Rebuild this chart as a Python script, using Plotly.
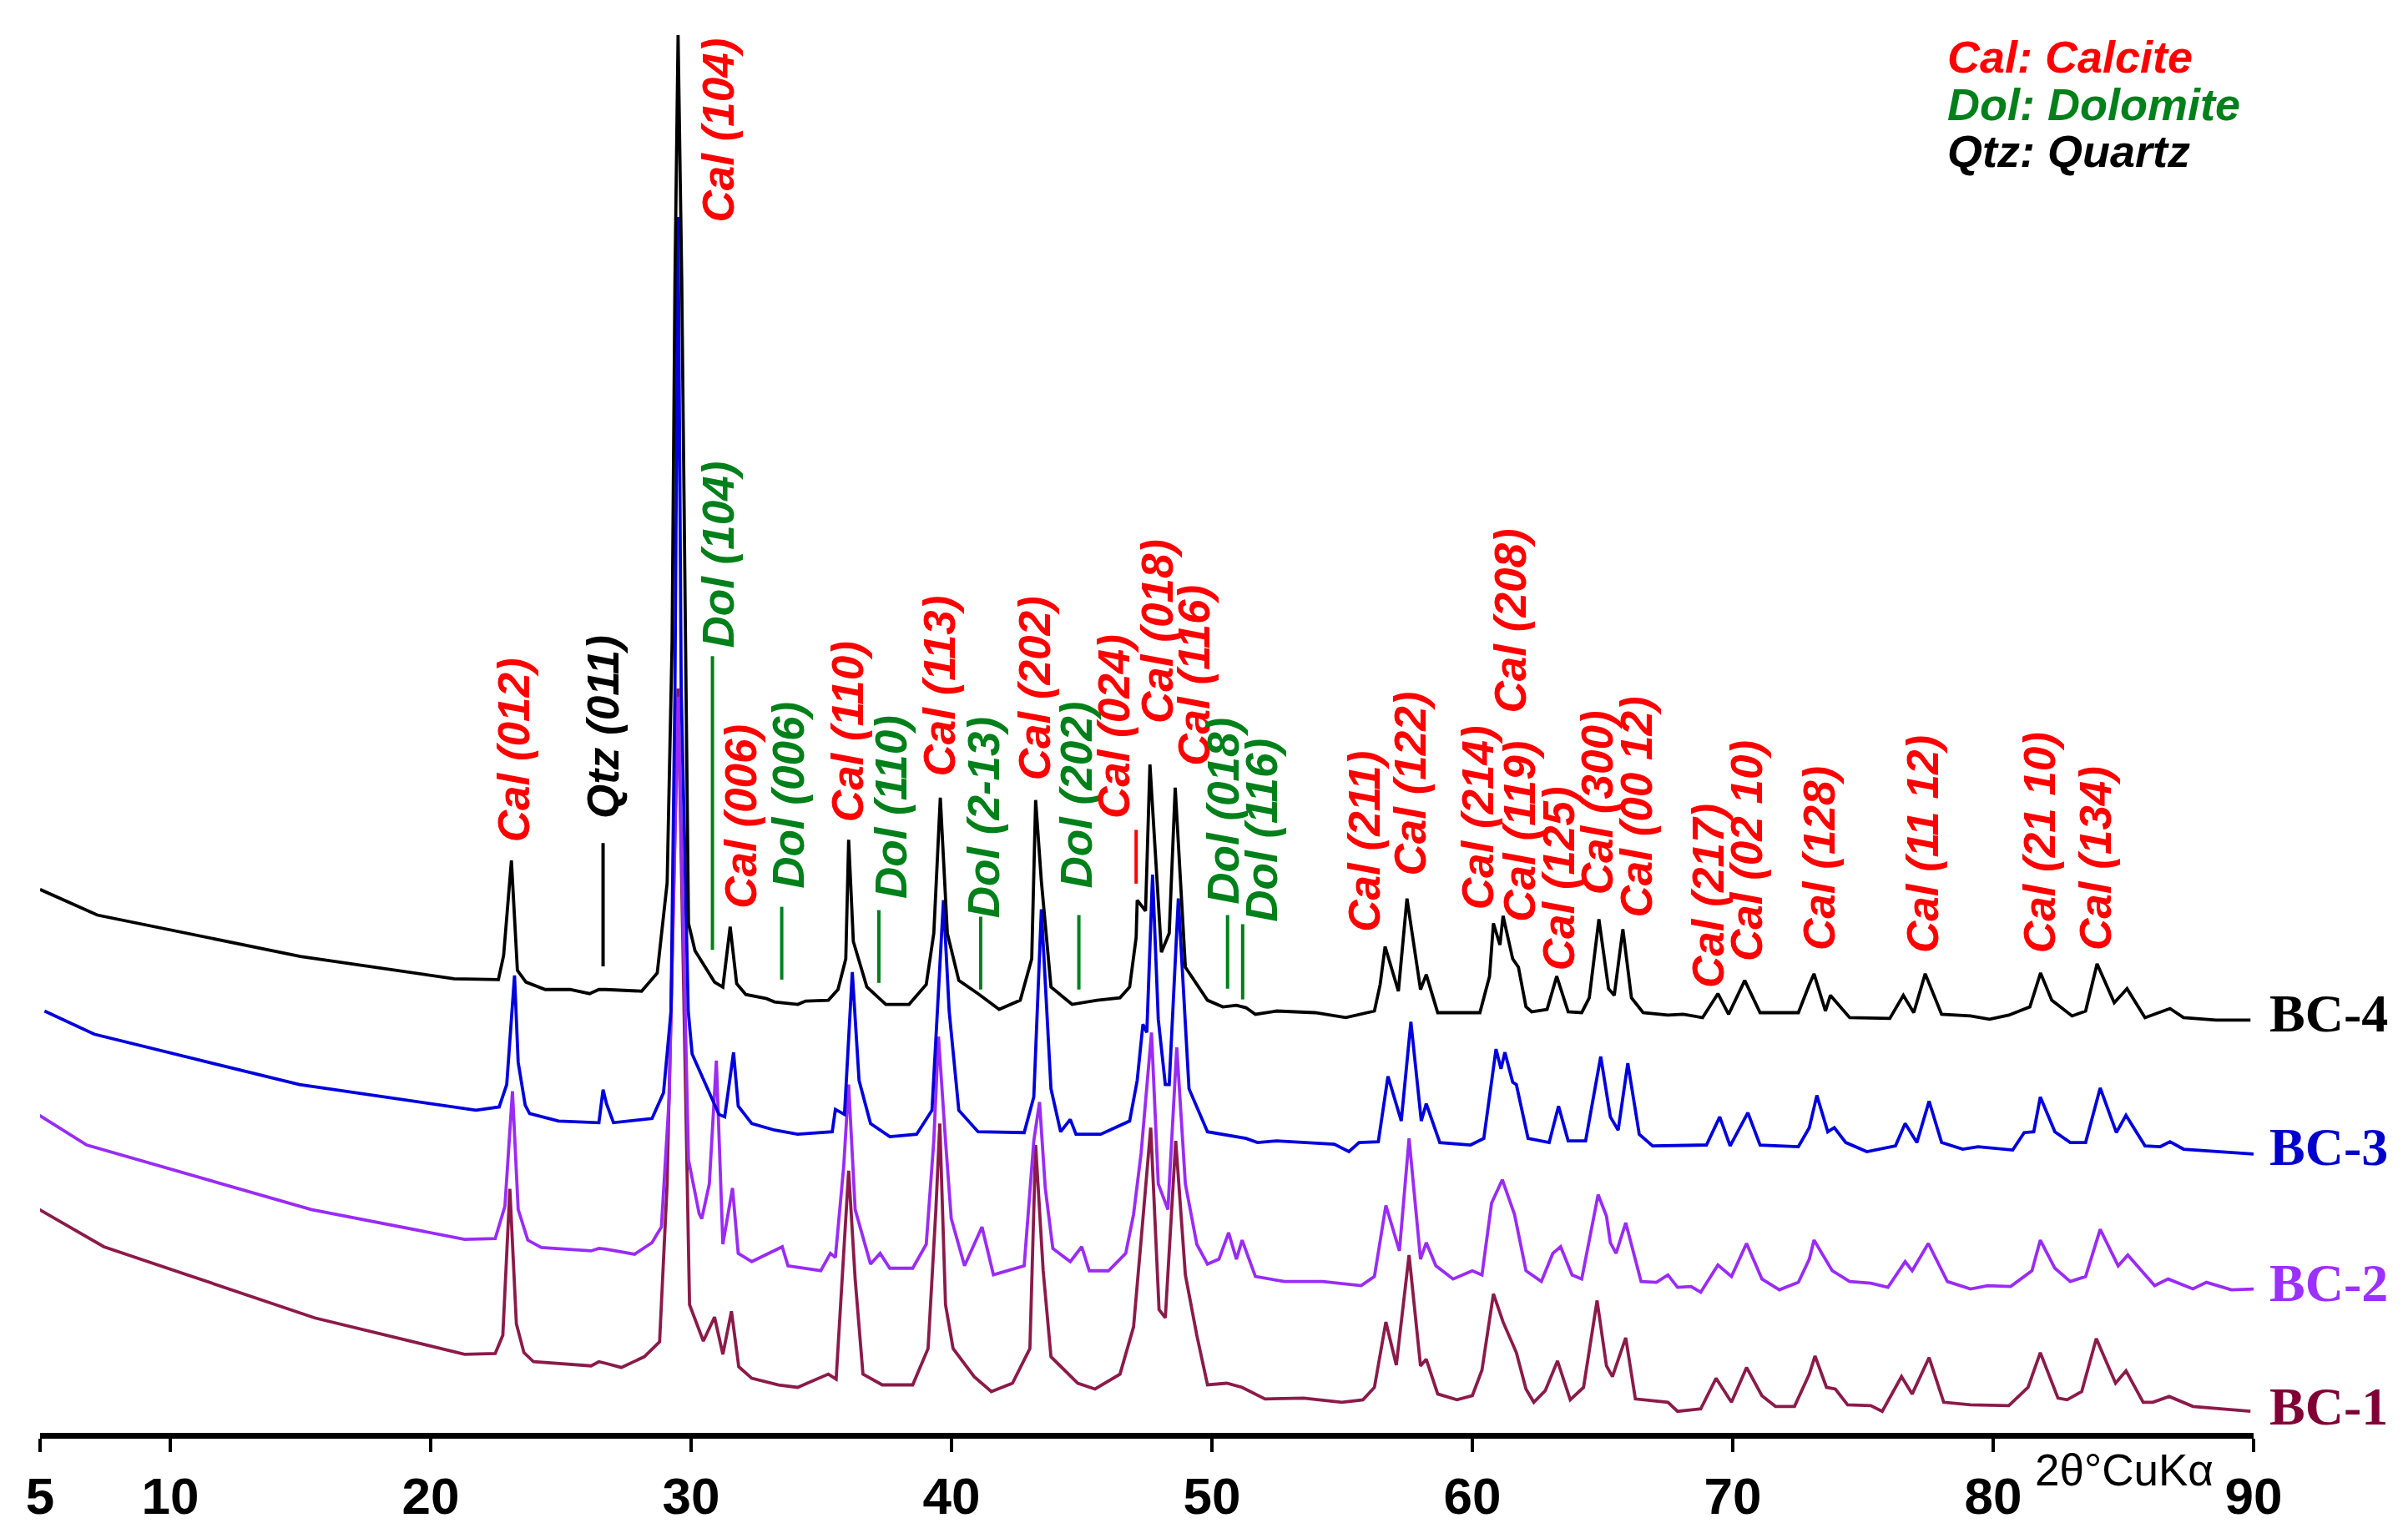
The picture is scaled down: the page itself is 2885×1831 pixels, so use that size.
import plotly.graph_objects as go

# ==========================
# DATA (2-theta in degrees, intensity in a.u. with stacking offsets as drawn)
# ==========================

bc4_theta = [5.0, 7.2, 15.0, 20.9, 22.6, 22.8, 23.1, 23.33, 23.66, 24.4, 25.35, 26.1, 26.46, 26.73,
             28.1, 28.7, 29.08, 29.27, 29.38, 29.5, 29.64, 29.78, 29.9, 30.15, 30.9, 31.22, 31.5,
             31.75, 32.1, 32.9, 33.2, 34.1, 34.4, 35.27, 35.64, 35.94, 36.05, 36.23, 36.75, 37.48,
             38.37, 39.03, 39.32, 39.57, 39.84, 40.28, 41.02, 41.83, 42.64, 43.08, 43.23, 43.45,
             43.82, 44.63, 45.59, 46.47, 46.84, 47.09, 47.13, 47.45, 47.62, 48.06, 48.36, 48.59,
             48.98, 49.83, 50.42, 50.94, 51.31, 51.67, 52.49, 53.96, 55.14, 56.24, 56.46, 56.65,
             57.16, 57.49, 58.01, 58.23, 58.67, 60.29, 60.66, 60.81, 61.06, 61.18, 61.55, 61.77,
             62.06, 62.28, 62.87, 63.24, 63.68, 64.2, 64.49, 64.86, 65.23, 65.45, 65.78, 66.11,
             66.56, 67.51, 68.1, 68.84, 69.43, 69.84, 70.46, 71.05, 72.52, 72.94, 73.12, 73.56,
             73.75, 74.49, 76.03, 76.55, 76.95, 77.39, 78.02, 79.13, 79.86, 80.6, 81.41, 81.82,
             82.25, 83.03, 83.55, 83.99, 84.65, 85.14, 85.83, 86.79, 87.31, 88.56, 89.88]
bc4_counts = [657, 626, 576, 549, 548, 577, 692, 559, 545, 536, 536, 531, 536, 536,
              534, 556, 665, 956, 1395, 1690, 1395, 956, 616, 583, 545, 539, 612,
              543, 530, 525, 521, 518, 522, 523, 536, 573, 717, 594, 539, 518,
              518, 542, 604, 768, 604, 547, 531, 512, 523, 573, 765, 667,
              539, 518, 523, 526, 539, 599, 644, 631, 808, 581, 604, 780,
              563, 523, 515, 517, 514, 506, 510, 508, 502, 510, 542, 588,
              534, 646, 536, 554, 508, 508, 552, 616, 590, 625, 573, 563,
              515, 509, 512, 552, 509, 508, 526, 621, 537, 529, 609, 526,
              508, 505, 506, 502, 531, 506, 547, 508, 508, 542, 555, 510,
              529, 502, 501, 529, 508, 555, 506, 504, 500, 505, 515, 556,
              523, 504, 510, 567, 520, 537, 502, 513, 502, 499, 499]

bc3_theta = [5.17, 7.08, 14.96, 21.74, 22.63, 22.92, 23.22, 23.36, 23.63, 23.8, 24.91, 26.46, 26.62,
             26.75, 27.02, 28.5, 28.94, 29.23, 29.38, 29.5, 29.62, 29.89, 30.04, 31.07, 31.29,
             31.63, 31.81, 32.33, 33.21, 34.09, 35.42, 35.54, 35.89, 36.19, 36.45, 36.89, 37.63,
             38.66, 39.25, 39.47, 39.69, 39.91, 40.28, 41.02, 42.79, 43.16, 43.45, 43.82, 44.19,
             44.56, 44.78, 45.73, 46.84, 47.13, 47.35, 47.5, 47.72, 47.94, 48.21, 48.36, 48.71,
             49.12, 49.83, 51.31, 51.75, 52.49, 54.7, 55.26, 55.65, 56.39, 56.76, 57.27, 57.64,
             58.04, 58.23, 58.75, 59.93, 60.44, 60.91, 61.1, 61.25, 61.55, 61.69, 62.14, 62.95,
             63.31, 63.68, 64.35, 64.93, 65.3, 65.6, 65.97, 66.41, 66.92, 68.99, 69.5, 69.9,
             70.58, 71.05, 72.52, 72.94, 73.23, 73.65, 73.9, 74.34, 75.15, 76.25, 76.62, 77.07,
             77.54, 78.02, 78.83, 79.42, 80.75, 81.19, 81.56, 81.81, 82.37, 82.96, 83.55, 84.11,
             84.73, 85.1, 85.83, 86.42, 86.79, 87.31, 90.0]
bc3_counts = [510, 482, 421, 390, 394, 421, 553, 448, 396, 386, 377, 375, 415,
              398, 375, 380, 411, 510, 900, 1470, 900, 510, 458, 385, 382,
              460, 395, 374, 366, 361, 364, 391, 385, 557, 426, 374, 358,
              361, 390, 510, 644, 510, 390, 364, 363, 406, 633, 416, 364,
              379, 361, 361, 377, 426, 494, 484, 675, 500, 421, 421, 646,
              416, 364, 356, 351, 353, 349, 340, 351, 352, 431, 377, 497,
              377, 398, 351, 348, 356, 464, 440, 460, 424, 421, 356, 351,
              395, 353, 353, 455, 382, 366, 447, 361, 347, 348, 382, 347,
              387, 348, 346, 369, 408, 364, 369, 351, 340, 347, 374, 351,
              401, 351, 343, 346, 342, 363, 364, 406, 364, 351, 351, 417,
              363, 384, 347, 346, 352, 343, 337]

bc2_theta = [4.87, 6.79, 15.41, 21.3, 22.48, 22.85, 23.14, 23.36, 23.73, 24.25, 26.16, 26.46, 26.73,
             27.83, 28.5, 28.86, 29.16, 29.5, 29.9, 30.31, 30.41, 30.7, 30.97, 31.22, 31.59, 31.81,
             32.33, 33.5, 33.72, 34.98, 35.35, 35.54, 35.86, 36.05, 36.3, 36.89, 37.26, 37.63,
             38.51, 39.03, 39.32, 39.5, 39.77, 39.99, 40.5, 41.17, 41.61, 42.79, 43.16, 43.38,
             43.6, 43.89, 44.56, 45.0, 45.29, 46.03, 46.69, 46.99, 47.28, 47.68, 47.94, 48.31,
             48.65, 48.98, 49.42, 49.83, 50.27, 50.64, 50.94, 51.16, 51.67, 52.78, 54.25, 55.73,
             56.24, 56.68, 57.2, 57.57, 58.01, 58.23, 58.6, 59.26, 60.0, 60.37, 60.74, 61.15,
             61.62, 62.06, 62.65, 63.09, 63.39, 63.83, 64.2, 64.83, 65.15, 65.3, 65.52, 65.89,
             66.48, 67.07, 67.51, 67.88, 68.4, 68.77, 69.43, 69.95, 70.53, 71.12, 71.79, 72.52,
             72.94, 73.12, 73.82, 74.49, 75.3, 75.96, 76.62, 76.89, 77.51, 78.24, 79.13, 79.79,
             80.67, 81.49, 81.81, 82.37, 82.96, 83.55, 84.11, 84.8, 85.17, 86.2, 86.72, 87.67,
             88.19, 89.15, 90.0]
bc2_counts = [386, 348, 270, 234, 235, 274, 413, 270, 233, 224, 220, 223, 222,
              216, 230, 249, 406, 890, 330, 265, 259, 301, 450, 228, 296, 217,
              207, 225, 202, 196, 217, 212, 322, 421, 270, 204, 217, 199,
              199, 228, 353, 479, 353, 259, 202, 249, 191, 202, 353, 400,
              296, 223, 207, 225, 196, 196, 217, 264, 338, 484, 301, 270,
              466, 301, 228, 204, 210, 242, 210, 233, 189, 183, 183, 178,
              189, 275, 220, 356, 210, 230, 202, 186, 196, 191, 278, 306,
              264, 196, 183, 217, 225, 191, 186, 288, 262, 230, 217, 254,
              183, 182, 191, 176, 177, 170, 203, 189, 229, 186, 173, 182,
              210, 233, 196, 183, 181, 176, 207, 196, 229, 183, 174, 178,
              177, 196, 233, 199, 183, 189, 246, 202, 215, 178, 186, 174,
              182, 173, 174]

bc1_theta = [4.97, 7.45, 15.55, 21.3, 22.48, 22.77, 23.04, 23.29, 23.58, 23.95, 26.16, 26.46, 26.73,
             27.32, 28.2, 28.79, 29.08, 29.5, 29.94, 30.47, 30.9, 31.22, 31.55, 31.83, 32.33,
             33.36, 34.09, 35.27, 35.57, 35.79, 36.05, 36.3, 36.6, 37.34, 38.51, 39.1, 39.4,
             39.55, 39.77, 40.06, 40.87, 41.53, 42.34, 43.01, 43.23, 43.52, 43.82, 44.85, 45.51,
             46.47, 46.99, 47.28, 47.65, 47.97, 48.21, 48.61, 48.98, 49.42, 49.83, 50.57, 51.16,
             52.04, 53.52, 54.99, 55.8, 56.24, 56.68, 57.08, 57.57, 58.01, 58.23, 58.67, 59.41,
             60.0, 60.37, 60.81, 61.18, 61.69, 62.06, 62.36, 62.8, 63.27, 63.76, 64.27, 64.79,
             65.15, 65.38, 65.89, 66.26, 67.51, 67.88, 68.77, 69.36, 69.95, 70.53, 71.12, 71.64,
             72.37, 72.94, 73.16, 73.6, 73.94, 74.41, 75.3, 75.74, 76.48, 76.89, 77.54, 78.1,
             79.13, 80.6, 81.34, 81.81, 82.49, 82.84, 83.4, 83.96, 84.7, 85.1, 85.76, 86.13,
             86.76, 87.67, 89.88]
bc1_counts = [270, 225, 139, 95, 96, 118, 295, 132, 97, 86, 81, 86, 84,
              79, 92, 110, 301, 900, 155, 111, 140, 95, 147, 80, 66,
              58, 55, 71, 65, 186, 317, 186, 71, 58, 58, 102, 270,
              374, 155, 102, 68, 50, 60, 102, 348, 196, 92, 60, 53,
              71, 128, 233, 369, 149, 139, 353, 191, 118, 58, 60, 55,
              41, 42, 37, 40, 55, 134, 82, 215, 81, 89, 47, 40,
              45, 76, 168, 134, 97, 53, 37, 51, 87, 40, 55, 160,
              81, 68, 115, 41, 37, 26, 29, 66, 37, 79, 45, 32,
              32, 71, 93, 55, 53, 34, 33, 26, 68, 47, 91, 37,
              34, 33, 55, 97, 42, 40, 50, 114, 60, 75, 37, 37,
              44, 32, 26]

sample_names = ["BC-1", "BC-2", "BC-3", "BC-4"]
sample_label_level = [32, 181, 346, 507]

# reflection labels: text, 2theta of label centre, intensity at label foot
peak_labels = ["Cal (012)", "Qtz (011)", "Cal (104)", "Dol (104)", "Cal (006)", "Dol (006)",
               "Cal (110)", "Dol (110)", "Cal (113)", "Dol (2-13)", "Cal (202)", "Dol (202)",
               "Cal (024)", "Cal (018)", "Cal (116)", "Dol (018)", "Dol (116)", "Cal (211)",
               "Cal (122)", "Cal (214)", "Cal (208)", "Cal (119)", "Cal (125)", "Cal (300)",
               "Cal (00 12)", "Cal (217)", "Cal (02 10)", "Cal (128)", "Cal (11 12)",
               "Cal (21 10)", "Cal (134)"]
peak_label_theta = [23.19, 26.62, 31.03, 31.03, 31.88, 33.75, 36.03, 37.67, 39.52, 41.26, 43.2,
                    44.8, 46.22, 47.88, 49.3, 50.45, 51.9, 55.86, 57.6, 60.2, 61.45, 61.82,
                    63.33, 64.78, 66.3, 69.06, 70.53, 73.31, 77.29, 81.78, 83.92]
peak_label_foot = [712, 740, 1461, 947, 632, 656, 736, 644, 791, 620, 787, 656, 740, 856, 804,
                   637, 616, 604, 671, 630, 868, 616, 557, 648, 621, 536, 568, 581, 578, 578, 581]

# short reference bars under some labels
bar_phase = ["Qtz", "Dol", "Dol", "Dol", "Dol", "Dol", "Cal", "Dol", "Dol"]
bar_theta = [26.62, 30.82, 33.48, 37.21, 41.12, 44.89, 47.09, 50.6, 51.18]
bar_low = [564, 584, 548, 544, 536, 536, 664, 537, 524]
bar_high = [713, 939, 636, 632, 624, 626, 729, 626, 615]

legend_lines = ["Cal: Calcite", "Dol: Dolomite", "Qtz: Quartz"]
tick_values = [5, 10, 20, 30, 40, 50, 60, 70, 80, 90]

# ==========================
# STYLE
# ==========================

phase_color = {"Cal": "#FF0000", "Dol": "#00801A", "Qtz": "#000000"}
trace_color = {"BC-1": "#8B1A4A", "BC-2": "#9A2BF5", "BC-3": "#0000DD", "BC-4": "#000000"}
name_color = {"BC-1": "#800035", "BC-2": "#9B30FF", "BC-3": "#0000CC", "BC-4": "#000000"}
narrow = "Liberation Sans Narrow, Arial Narrow, Liberation Sans, Arial"

series = {
    "BC-1": (bc1_theta, bc1_counts),
    "BC-2": (bc2_theta, bc2_counts),
    "BC-3": (bc3_theta, bc3_counts),
    "BC-4": (bc4_theta, bc4_counts),
}

fig = go.Figure()

for name in sample_names:
    tt, cc = series[name]
    fig.add_trace(
        go.Scatter(
            x=tt, y=cc, mode="lines",
            line=dict(color=trace_color[name], width=3.8),
            showlegend=False
        )
    )

# reference bars
for ph, t, lo, hi in zip(bar_phase, bar_theta, bar_low, bar_high):
    fig.add_trace(
        go.Scatter(
            x=[t, t], y=[lo, hi], mode="lines",
            line=dict(color=phase_color[ph], width=4),
            showlegend=False
        )
    )

# rotated reflection labels
for txt, t, foot in zip(peak_labels, peak_label_theta, peak_label_foot):
    fig.add_annotation(
        x=t, y=foot, xref="x", yref="y",
        text=txt, textangle=-90, showarrow=False,
        xanchor="center", yanchor="bottom",
        font=dict(family="Liberation Sans, Arial", size=53,
                  color=phase_color[txt[:3]], weight="bold", style="italic")
    )

# phase key
for i, line in enumerate(legend_lines):
    fig.add_annotation(
        x=0.861, y=0.9785 - i * 0.0335, xref="paper", yref="paper",
        text=line, showarrow=False, xanchor="left", yanchor="middle",
        font=dict(family="Liberation Sans, Arial", size=54,
                  color=phase_color[line[:3]], weight="bold", style="italic")
    )

# sample names at right end
for name, lvl in zip(sample_names, sample_label_level):
    fig.add_annotation(
        x=1.0065, y=lvl, xref="paper", yref="y",
        text=name, showarrow=False, xanchor="left", yanchor="middle",
        font=dict(family="Liberation Serif, Times New Roman", size=64,
                  color=name_color[name], weight="bold")
    )

# axis caption
fig.add_annotation(
    x=0.9415, y=-0.0265, xref="paper", yref="paper",
    text="2θ°CuKα", showarrow=False, xanchor="center", yanchor="middle",
    font=dict(family=narrow, size=53, color="black")
)

fig.update_xaxes(
    range=[5, 90],
    tickvals=tick_values,
    ticktext=[str(v) for v in tick_values],
    ticks="outside", ticklen=16, tickwidth=4, tickcolor="black",
    showline=True, linewidth=7, linecolor="black",
    showgrid=False, zeroline=False,
    tickfont=dict(family=narrow, size=62, color="black", weight="bold")
)
fig.update_yaxes(range=[0, 1700], visible=False, showgrid=False, zeroline=False)

fig.update_layout(
    width=2885, height=1831,
    paper_bgcolor="white", plot_bgcolor="white",
    margin=dict(l=40, r=193, t=24, b=107),
    showlegend=False
)

fig.write_html("out.html")
